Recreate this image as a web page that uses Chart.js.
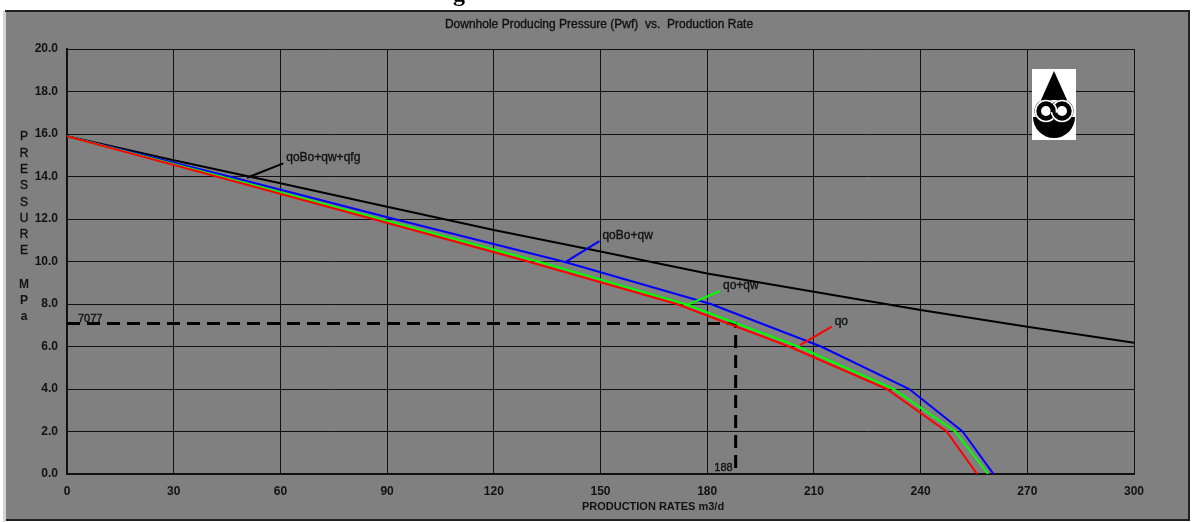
<!DOCTYPE html>
<html>
<head>
<meta charset="utf-8">
<title>Downhole Producing Pressure (Pwf) vs. Production Rate</title>
<script src="https://cdn.jsdelivr.net/npm/chart.js@4.4.1/dist/chart.umd.min.js"></script>
<style>
  html, body { margin: 0; padding: 0; background: #fff; }
  #wrap { position: relative; width: 1194px; height: 522px; }
</style>
</head>
<body>
<div id="wrap"><canvas id="ipr" width="1194" height="522"></canvas></div>
<script>
// pressure levels (MPa) shared by the three IPR curves
const pwfLevels = [15.9, 14, 12, 10, 8, 6, 4, 2, 0];
// rates (m3/d) at those pressures
const qoRates = [0, 42.1, 86, 129.6, 171.4, 203, 230.5, 247.3, 255.9];
const qoQwRates = [0, 43.3, 88, 132.4, 173.7, 205.5, 232.3, 249.7, 259.0];
const qoBoQwRates = [0, 45.6, 92, 139.5, 181, 212, 236.8, 251.8, 260.5];
// total fluid incl. free gas
const totalRates = [0, 30, 60, 90, 120, 150, 180, 210, 240, 270, 300];
const totalPwf = [15.9, 14.76, 13.68, 12.58, 11.48, 10.47, 9.44, 8.58, 7.72, 6.93, 6.18];
// operating point
const operatingRate = 188;
const operatingPwf = 7.077;
const operatingLabels = ['7077', '188'];

const curveNames = ['qoBo+qw+qfg', 'qoBo+qw', 'qo+qw', 'qo'];

const FONT = "'Liberation Sans', Arial, sans-serif";
const INK = '#111';

function toPoints(xs, ys) {
  return xs.map((x, i) => ({ x, y: ys[i] }));
}

function curve(label, xs, ys, color) {
  return {
    label,
    data: toPoints(xs, ys),
    borderColor: color,
    borderWidth: 2,
    pointRadius: 0,
    tension: 0,
    fill: false,
  };
}

// leader lines: from a point on the curve to the label (data units)
const callouts = [
  { text: curveNames[0], color: '#000', from: [50.6, 13.94], to: [60.8, 14.62] },
  { text: curveNames[1], color: '#0000ff', from: [140, 9.96], to: [149.7, 10.96] },
  { text: curveNames[2], color: '#00ff00', from: [174.2, 7.95], to: [183.6, 8.61] },
  { text: curveNames[3], color: '#ff0000', from: [206.1, 6.07], to: [215, 6.93] },
];

// slightly heavier text, closer to the screen-font look of the original
function inkText(ctx, text, x, y) {
  ctx.fillText(text, x, y);
  ctx.strokeText(text, x, y);
}

function drawLogo(ctx) {
  ctx.save();
  ctx.fillStyle = '#fff';
  ctx.fillRect(1032, 69, 44, 71);
  ctx.fillStyle = '#000';
  ctx.beginPath();
  ctx.moveTo(1054, 71);
  ctx.lineTo(1067, 100);
  ctx.lineTo(1041, 100);
  ctx.closePath();
  ctx.fill();
  ctx.beginPath();
  ctx.arc(1054, 117, 21, 0, Math.PI);
  ctx.closePath();
  ctx.fill();
  // interlocking rings
  const ring = (cx) => {
    ctx.fillStyle = '#000';
    ctx.beginPath();
    ctx.arc(cx, 111, 11.5, 0, Math.PI * 2);
    ctx.fill();
    ctx.strokeStyle = '#fff';
    ctx.lineWidth = 1.6;
    ctx.beginPath();
    ctx.arc(cx, 111, 10.5, 0, Math.PI * 2);
    ctx.stroke();
    ctx.fillStyle = '#fff';
    ctx.beginPath();
    ctx.arc(cx, 111, 5, 0, Math.PI * 2);
    ctx.fill();
  };
  ring(1046);
  ring(1062);
  // re-cross the left ring over the right one
  ctx.strokeStyle = '#000';
  ctx.lineWidth = 5;
  ctx.beginPath();
  ctx.arc(1046, 111, 7.5, -0.9, 0.2);
  ctx.stroke();
  ctx.strokeStyle = '#fff';
  ctx.lineWidth = 1.6;
  ctx.beginPath();
  ctx.arc(1046, 111, 10.5, -0.75, 0.15);
  ctx.stroke();
  ctx.restore();
}

const framePlugin = {
  id: 'frame',
  beforeDraw(chart) {
    const ctx = chart.ctx;
    ctx.save();
    ctx.fillStyle = '#fff';
    ctx.fillRect(0, 0, 1194, 522);
    // tail of a heading glyph above the picture
    ctx.fillStyle = '#000';
    ctx.font = "bold 24px 'Liberation Serif', serif";
    ctx.textBaseline = 'alphabetic';
    ctx.fillText('g', 453, 1);
    ctx.fillStyle = '#fff';
    ctx.fillRect(0, 9, 1194, 2);
    ctx.fillStyle = '#d4d4d4';
    ctx.fillRect(3, 11, 3, 511);
    ctx.fillStyle = '#808080';
    ctx.fillRect(6, 12, 1183, 508);
    ctx.fillStyle = '#222';
    ctx.fillRect(5, 10, 1185, 2);
    ctx.fillRect(1188, 10, 2, 511);
    ctx.fillRect(6, 519, 1184, 2);
    ctx.restore();
  },
  afterDraw(chart) {
    const ctx = chart.ctx;
    const xs = chart.scales.x;
    const ys = chart.scales.y;
    const px = (v) => xs.getPixelForValue(v);
    const py = (v) => ys.getPixelForValue(v);
    ctx.save();
    ctx.fillStyle = INK;
    ctx.strokeStyle = INK;
    ctx.lineWidth = 0.35;

    // title
    ctx.font = `12px ${FONT}`;
    ctx.textAlign = 'center';
    ctx.textBaseline = 'middle';
    inkText(ctx, 'Downhole Producing Pressure (Pwf)  vs.  Production Rate', 599, 25);

    // axis titles
    ctx.font = `bold 11px ${FONT}`;
    ctx.fillText('PRODUCTION RATES m3/d', 653, 507);
    ctx.font = `12px ${FONT}`;
    'PRESSURE'.split('').forEach((ch, i) => inkText(ctx, ch, 24, 137 + i * 16.3));
    ctx.font = `bold 12px ${FONT}`;
    'MPa'.split('').forEach((ch, i) => ctx.fillText(ch, 24, 285 + i * 16));

    // callouts
    ctx.textAlign = 'left';
    ctx.textBaseline = 'alphabetic';
    callouts.forEach((c) => {
      ctx.strokeStyle = c.color;
      ctx.lineWidth = 2;
      ctx.beginPath();
      ctx.moveTo(px(c.from[0]), py(c.from[1]));
      ctx.lineTo(px(c.to[0]), py(c.to[1]));
      ctx.stroke();
      ctx.font = `12px ${FONT}`;
      ctx.fillStyle = INK;
      ctx.strokeStyle = INK;
      ctx.lineWidth = 0.35;
      inkText(ctx, c.text, px(c.to[0]) + 3, py(c.to[1]) - 2);
    });

    // operating point labels
    ctx.font = `11px ${FONT}`;
    inkText(ctx, operatingLabels[0], px(0) + 11, py(operatingPwf) - 2);
    ctx.textAlign = 'right';
    inkText(ctx, operatingLabels[1], px(operatingRate) - 3, py(0) - 3);

    ctx.restore();
    drawLogo(ctx);
  },
};

new Chart(document.getElementById('ipr'), {
  type: 'line',
  data: {
    datasets: [
      curve(curveNames[3], qoRates, pwfLevels, '#ff0000'),
      curve(curveNames[2], qoQwRates, pwfLevels, '#00ff00'),
      curve(curveNames[1], qoBoQwRates, pwfLevels, '#0000ff'),
      curve(curveNames[0], totalRates, totalPwf, '#000000'),
      {
        label: 'operating point',
        data: [
          { x: 0, y: operatingPwf },
          { x: operatingRate, y: operatingPwf },
          { x: operatingRate, y: 0 },
        ],
        borderColor: '#000',
        borderWidth: 3,
        borderDash: [13, 7],
        pointRadius: 0,
        tension: 0,
      },
    ],
  },
  options: {
    responsive: false,
    animation: false,
    layout: { padding: { left: 0, top: 49, right: 60, bottom: 0 } },
    plugins: {
      legend: { display: false },
      tooltip: { enabled: false },
    },
    scales: {
      x: {
        type: 'linear',
        min: 0,
        max: 300,
        afterFit(scale) { scale.height = 48; },
        ticks: {
          stepSize: 30,
          padding: 10,
          color: INK,
          font: { family: FONT, size: 12, weight: 'bold' },
          maxRotation: 0,
        },
        grid: { color: '#111', lineWidth: 1, drawTicks: false },
        border: { color: '#111', width: 2 },
      },
      y: {
        type: 'linear',
        min: 0,
        max: 20,
        afterFit(scale) { scale.width = 67; },
        ticks: {
          stepSize: 2,
          padding: 9,
          color: INK,
          font: { family: FONT, size: 12, weight: 'bold' },
          callback: (v) => Number(v).toFixed(1),
        },
        grid: { color: '#111', lineWidth: 1, drawTicks: false },
        border: { color: '#111', width: 2 },
      },
    },
  },
  plugins: [framePlugin],
});
</script>
</body>
</html>
